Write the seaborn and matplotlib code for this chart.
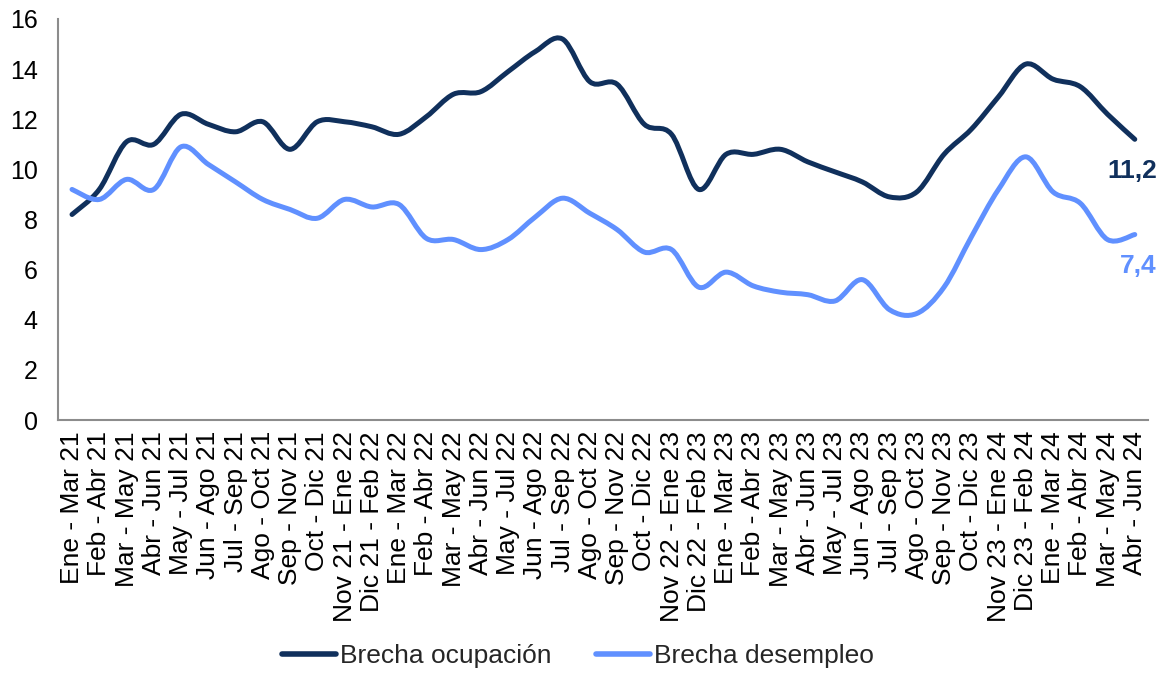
import numpy as np
import pandas as pd
import matplotlib
matplotlib.use("Agg")
import matplotlib.pyplot as plt
from matplotlib.path import Path
from matplotlib.patches import PathPatch
from matplotlib.lines import Line2D
import seaborn as sns

categories = [
    "Ene - Mar 21", "Feb - Abr 21", "Mar - May 21", "Abr - Jun 21", "May - Jul 21",
    "Jun - Ago 21", "Jul - Sep 21", "Ago - Oct 21", "Sep - Nov 21", "Oct - Dic 21",
    "Nov 21 - Ene 22", "Dic 21 - Feb 22", "Ene - Mar 22", "Feb - Abr 22", "Mar - May 22",
    "Abr - Jun 22", "May - Jul 22", "Jun - Ago 22", "Jul - Sep 22", "Ago - Oct 22",
    "Sep - Nov 22", "Oct - Dic 22", "Nov 22 - Ene 23", "Dic 22 - Feb 23", "Ene - Mar 23",
    "Feb - Abr 23", "Mar - May 23", "Abr - Jun 23", "May - Jul 23", "Jun - Ago 23",
    "Jul - Sep 23", "Ago - Oct 23", "Sep - Nov 23", "Oct - Dic 23", "Nov 23 - Ene 24",
    "Dic 23 - Feb 24", "Ene - Mar 24", "Feb - Abr 24", "Mar - May 24", "Abr - Jun 24",
]

brecha_ocupacion = [
    8.2, 9.2, 11.1, 11.0, 12.2, 11.8, 11.5, 11.9, 10.8, 11.9,
    11.9, 11.7, 11.4, 12.1, 13.0, 13.1, 13.9, 14.7, 15.2, 13.5,
    13.4, 11.8, 11.4, 9.2, 10.6, 10.6, 10.8, 10.3, 9.9, 9.5,
    8.9, 9.1, 10.6, 11.6, 12.9, 14.2, 13.6, 13.3, 12.2, 11.2,
]

brecha_desempleo = [
    9.2, 8.8, 9.6, 9.2, 10.9, 10.2, 9.5, 8.8, 8.4, 8.05,
    8.8, 8.5, 8.6, 7.25, 7.2, 6.8, 7.2, 8.1, 8.85, 8.25,
    7.6, 6.7, 6.8, 5.3, 5.9, 5.35, 5.1, 5.0, 4.75, 5.6,
    4.4, 4.25, 5.3, 7.3, 9.2, 10.5, 9.1, 8.65, 7.2, 7.4,
]

series_names = ["Brecha ocupación", "Brecha desempleo"]
colors = ["#10305C", "#6090FF"]
yticks = [0, 2, 4, 6, 8, 10, 12, 14, 16]

df = pd.DataFrame({
    "cat": categories * 2,
    "x": list(range(len(categories))) * 2,
    "valor": brecha_ocupacion + brecha_desempleo,
    "serie": [series_names[0]] * len(categories) + [series_names[1]] * len(categories),
})

sns.set_theme(style="white")
plt.rcParams["font.family"] = ["Liberation Sans", "DejaVu Sans"]

fig = plt.figure(figsize=(11.62, 6.73), dpi=100)
ax = fig.add_axes([58.4 / 1162, 1 - 420 / 673, (1148.4 - 58.4) / 1162, (420 - 19) / 673])

LW = 3.6
sns.lineplot(data=df, x="x", y="valor", hue="serie", palette=colors,
             hue_order=series_names, ax=ax, legend=False, linewidth=LW)


def smooth_path(xs, ys):
    pts = np.column_stack([xs, ys])
    n = len(pts)
    verts = [pts[0]]
    codes = [Path.MOVETO]
    for i in range(n - 1):
        p0 = pts[i - 1] if i > 0 else pts[i]
        p1 = pts[i]
        p2 = pts[i + 1]
        p3 = pts[i + 2] if i + 2 < n else pts[i + 1]
        c1 = p1 + (p2 - p0) / 6.0
        c2 = p2 - (p3 - p1) / 6.0
        verts += [c1, c2, p2]
        codes += [Path.CURVE4] * 3
    return Path(verts, codes)


for line, col in zip(ax.get_lines()[:2], colors):
    xs, ys = line.get_xdata(), line.get_ydata()
    patch = PathPatch(smooth_path(np.asarray(xs, float), np.asarray(ys, float)),
                      fill=False, edgecolor=col, linewidth=LW,
                      capstyle="round", joinstyle="round", zorder=3)
    ax.add_patch(patch)
    line.set_visible(False)

ax.set_xlim(-0.5, len(categories) - 0.5)
ax.set_ylim(0, 16)
ax.set_yticks(yticks)
ax.set_yticklabels([str(t) for t in yticks], fontsize=18)
ax.set_xticks(range(len(categories)))
ax.set_xticklabels(categories, rotation=90, fontsize=19, ha="center", va="top")
ax.tick_params(axis="y", length=0, pad=15, colors="black")
ax.tick_params(axis="x", length=0, pad=8, colors="black")
ax.set_xlabel("")
ax.set_ylabel("")
ax.grid(False)
for s in ["top", "right"]:
    ax.spines[s].set_visible(False)
for s in ["left", "bottom"]:
    ax.spines[s].set_color("#8C8C8C")
    ax.spines[s].set_linewidth(1.5)

last = len(categories) - 1
ax.annotate("11,2", xy=(last, brecha_ocupacion[-1]), xytext=(-3, -32),
            textcoords="offset pixels", ha="center", va="center",
            fontsize=19, fontweight="bold", color=colors[0])
ax.annotate("7,4", xy=(last, brecha_desempleo[-1]), xytext=(3, -31),
            textcoords="offset pixels", ha="center", va="center",
            fontsize=19, fontweight="bold", color=colors[1])

handles = [Line2D([0], [0], color=c, linewidth=4, solid_capstyle="round") for c in colors]
fig.legend(handles, series_names, loc="center", bbox_to_anchor=(578 / 1162, 1 - 656 / 673),
           ncol=2, frameon=False, fontsize=19, handlelength=2.05, handletextpad=0.15,
           columnspacing=1.7)

fig.savefig("out.png", dpi=100)
